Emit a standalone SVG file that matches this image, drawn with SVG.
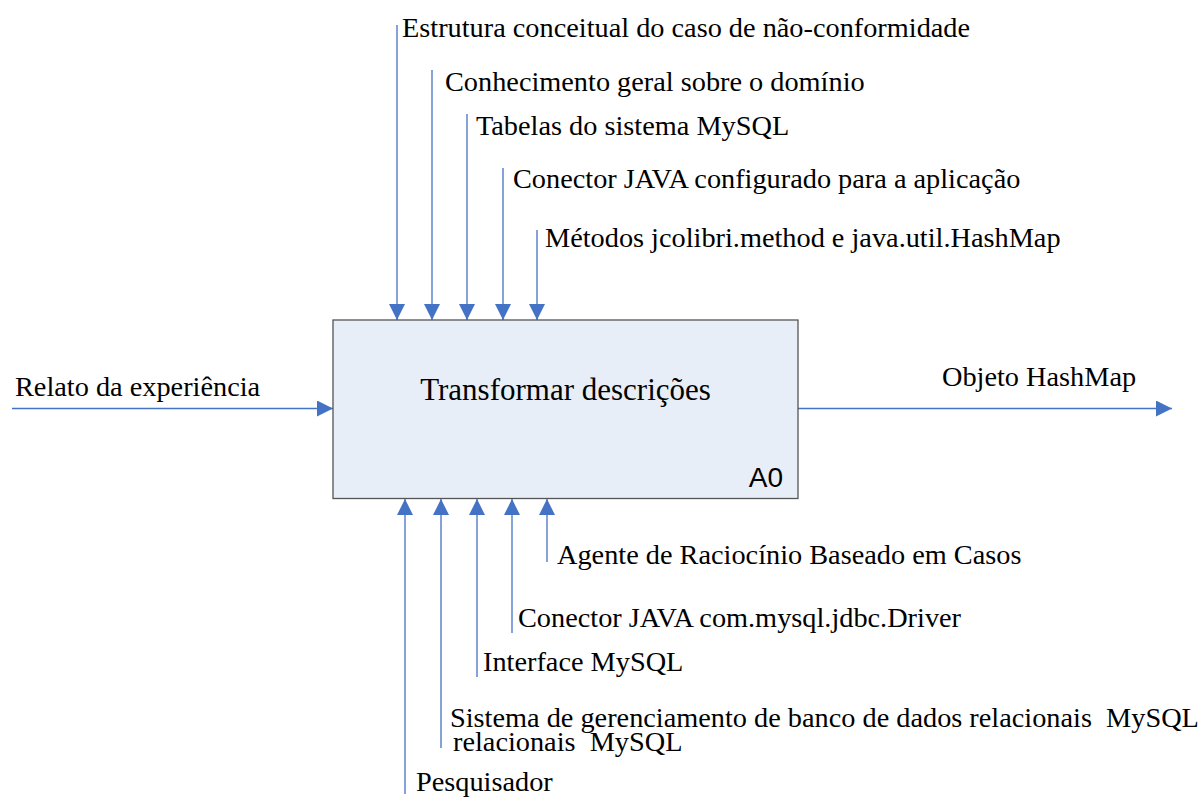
<svg xmlns="http://www.w3.org/2000/svg" width="1203" height="798" viewBox="0 0 1203 798">
<style>
.lbl{font-family:"Liberation Serif","Times New Roman",serif;font-size:28.3px;fill:#000}
.title{font-family:"Liberation Serif","Times New Roman",serif;font-size:31px;fill:#000}
.code{font-family:"Liberation Sans",Arial,sans-serif;font-size:28px;fill:#000}
.arr{stroke:#4472C4;stroke-width:1.3;fill:none;marker-end:url(#ah)}
</style>
<defs>
<marker id="ah" markerUnits="userSpaceOnUse" markerWidth="16" markerHeight="16" refX="16" refY="8" orient="auto">
<path d="M0,0 L16,8 L0,16 z" fill="#4472C4"/>
</marker>
</defs>
<rect width="1203" height="798" fill="#fff"/>
<g id="connectors">
<line class="arr" x1="397" y1="25" x2="397" y2="320"/>
<line class="arr" x1="432" y1="70" x2="432" y2="320"/>
<line class="arr" x1="467" y1="114" x2="467" y2="320"/>
<line class="arr" x1="503" y1="168" x2="503" y2="320"/>
<line class="arr" x1="537" y1="230" x2="537" y2="320"/>
<line class="arr" x1="12" y1="408.5" x2="333" y2="408.5"/>
<line class="arr" x1="798" y1="408.5" x2="1172" y2="408.5"/>
<line class="arr" x1="405" y1="794" x2="405" y2="499"/>
<line class="arr" x1="441" y1="748" x2="441" y2="499"/>
<line class="arr" x1="477" y1="677" x2="477" y2="499"/>
<line class="arr" x1="512" y1="633" x2="512" y2="499"/>
<line class="arr" x1="547" y1="562" x2="547" y2="499"/>
</g>
<g id="A0">
<rect x="333" y="320" width="465" height="178.5" fill="#E8EEF7" stroke="#555" stroke-width="1.3"/>
<text class="title" x="565.5" y="400" text-anchor="middle">Transformar descrições</text>
<text class="code" x="783" y="487" text-anchor="end">A0</text>
</g>
<g id="labels">
<text class="lbl" x="402" y="37">Estrutura conceitual do caso de não-conformidade</text>
<text class="lbl" x="445" y="91">Conhecimento geral sobre o domínio</text>
<text class="lbl" x="476" y="135">Tabelas do sistema MySQL</text>
<text class="lbl" x="513" y="188">Conector JAVA configurado para a aplicação</text>
<text class="lbl" x="545" y="247">Métodos jcolibri.method e java.util.HashMap</text>
<text class="lbl" x="15" y="396">Relato da experiência</text>
<text class="lbl" x="942" y="386">Objeto HashMap</text>
<text class="lbl" x="557" y="564">Agente de Raciocínio Baseado em Casos</text>
<text class="lbl" x="518" y="627">Conector JAVA com.mysql.jdbc.Driver</text>
<text class="lbl" x="483" y="671">Interface MySQL</text>
<text class="lbl" x="450" y="727" xml:space="preserve">Sistema de gerenciamento de banco de dados relacionais  MySQL</text>
<text class="lbl" x="453" y="751" xml:space="preserve">relacionais  MySQL</text>
<text class="lbl" x="416" y="791">Pesquisador</text>
</g>
</svg>
